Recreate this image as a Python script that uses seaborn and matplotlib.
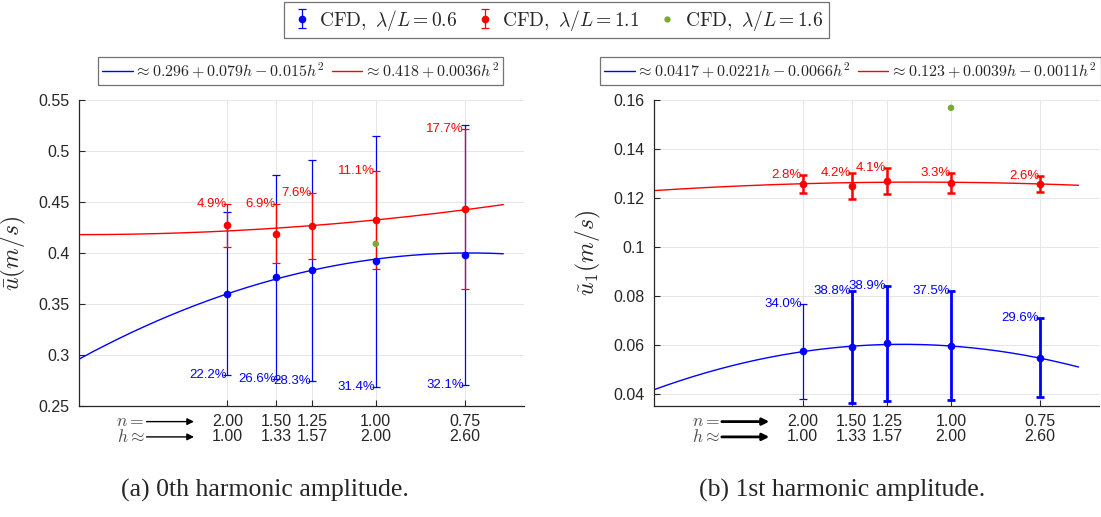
import numpy as np
import pandas as pd
import matplotlib
matplotlib.use("Agg")
import matplotlib.pyplot as plt
from matplotlib.lines import Line2D
import seaborn as sns

# Resolution levels: refinement index n and cell ratio h
n_labels = ["2.00", "1.50", "1.25", "1.00", "0.75"]
h_labels = ["1.00", "1.33", "1.57", "2.00", "2.60"]
h_vals = [1.00, 1.33, 1.57, 2.00, 2.60]

# 0th harmonic amplitude (mean velocity)
u0_short = [0.360, 0.376, 0.383, 0.392, 0.398]        # lambda/L = 0.6
u0_short_pct = [22.2, 26.6, 28.3, 31.4, 32.1]
u0_mid = [0.427, 0.419, 0.426, 0.432, 0.443]          # lambda/L = 1.1
u0_mid_pct = [4.9, 6.9, 7.6, 11.1, 17.7]
u0_long = 0.409                                       # lambda/L = 1.6 (h = 2)
fit0_short = [-0.015, 0.079, 0.296]                   # quadratic fit coeffs (h^2, h, 1)
fit0_mid = [0.0036, 0.0, 0.418]

# 1st harmonic amplitude
u1_short = [0.0573, 0.0592, 0.0606, 0.0597, 0.0548]
u1_short_pct = [34.0, 38.8, 38.9, 37.5, 29.6]
u1_mid = [0.1257, 0.1250, 0.1270, 0.1262, 0.1255]
u1_mid_pct = [2.8, 4.2, 4.1, 3.3, 2.6]
u1_long = 0.1568
fit1_short = [-0.0066, 0.0221, 0.0417]
fit1_mid = [-0.0011, 0.0039, 0.123]

long_h = 2.00

BLUE = (0.0, 0.0, 1.0)
RED = (1.0, 0.0, 0.0)
GREEN = (0.466, 0.674, 0.188)
DARK = (0.15, 0.15, 0.15)

sns.set_theme(style="whitegrid")
plt.rcParams["font.family"] = ["Liberation Sans", "DejaVu Sans"]
plt.rcParams["mathtext.fontset"] = "cm"

fig = plt.figure(figsize=(11.01, 5.17), dpi=100)
fig.patch.set_facecolor("white")
ax0 = fig.add_axes([0.0718, 0.2147, 0.4042, 0.5919])
ax1 = fig.add_axes([0.5943, 0.2147, 0.4042, 0.5919])

h_fit = np.linspace(0.0, 2.86, 300)


def draw_panel(ax, short, short_pct, mid, mid_pct, long_val, fit_s, fit_m,
               ylim, yticks, yticklabels, ylabel, short_lab_top,
               short_w, mid_w, arrow_lw):
    ax.set_facecolor("white")
    fit_df = pd.DataFrame({
        "h": np.concatenate([h_fit, h_fit]),
        "u": np.concatenate([np.polyval(fit_s, h_fit), np.polyval(fit_m, h_fit)]),
        "series": ["short"] * len(h_fit) + ["mid"] * len(h_fit),
    })
    sns.lineplot(data=fit_df, x="h", y="u", hue="series",
                 palette={"short": BLUE, "mid": RED}, linewidth=1.0,
                 legend=False, ax=ax, zorder=2)

    handles = []
    for vals, pcts, col, widths, top in ((short, short_pct, BLUE, short_w, short_lab_top),
                                         (mid, mid_pct, RED, mid_w, True)):
        first = None
        for h, v, p, w in zip(h_vals, vals, pcts, widths):
            err = v * p / 100.0
            c = ax.errorbar(h, v, yerr=err, fmt="o", color=col, ms=4.5,
                            capsize=3.2, elinewidth=w, capthick=w, zorder=3)
            if first is None:
                first = c
            end = v + err if top else v - err
            ax.annotate(f"{p:.1f}%", xy=(h, end), xytext=(-0.5, 0),
                        textcoords="offset points", ha="right", va="center",
                        fontsize=9.5, color=col, zorder=5)
        handles.append(first)

    sns.scatterplot(x=[long_h], y=[long_val], color=GREEN, s=22,
                    edgecolor="none", ax=ax, zorder=4)
    green_handle = Line2D([], [], ls="none", marker="o", ms=4.5,
                          color=GREEN, markeredgecolor="none")
    handles.append(green_handle)

    ax.set_xlim(0, 3)
    ax.set_ylim(*ylim)
    ax.set_yticks(yticks)
    ax.set_yticklabels(yticklabels)
    ax.set_xticks(h_vals)
    ax.set_xticklabels([f"{n}\n{hl}" for n, hl in zip(n_labels, h_labels)],
                       linespacing=1.0)
    ax.set_xlabel("")
    ax.set_ylabel(ylabel, fontsize=17, color=DARK)
    ax.yaxis.set_label_coords(-0.115, 0.5)

    ax.grid(True, color="0.9", linewidth=0.7)
    for side in ("top", "right"):
        ax.spines[side].set_visible(False)
    for side in ("left", "bottom"):
        ax.spines[side].set_color(DARK)
        ax.spines[side].set_linewidth(0.9)
    ax.tick_params(axis="both", direction="in", length=4, width=0.8,
                   colors=DARK, labelsize=11.5, left=True, bottom=True)
    ax.tick_params(axis="y", pad=7)
    ax.tick_params(axis="x", pad=6)

    tr = ax.get_xaxis_transform()
    for y, lab in ((-0.051, r"$n =$"), (-0.101, r"$h \approx$")):
        ax.text(0.44, y, lab, transform=tr, ha="right", va="center",
                fontsize=12.5, color="0.3")
        ax.annotate("", xy=(0.775, y), xytext=(0.455, y), xycoords=tr,
                    textcoords=tr, annotation_clip=False,
                    arrowprops=dict(arrowstyle="-|>", color="black",
                                    lw=arrow_lw, mutation_scale=10,
                                    shrinkA=0, shrinkB=0))
    return handles


h0 = draw_panel(ax0, u0_short, u0_short_pct, u0_mid, u0_mid_pct, u0_long,
                fit0_short, fit0_mid, (0.25, 0.55),
                [0.25, 0.30, 0.35, 0.40, 0.45, 0.50, 0.55],
                ["0.25", "0.3", "0.35", "0.4", "0.45", "0.5", "0.55"],
                r"$\tilde{\bar{u}}(m/s)$", False,
                [0.9] * 5, [0.9] * 5, 1.0)

h1 = draw_panel(ax1, u1_short, u1_short_pct, u1_mid, u1_mid_pct, u1_long,
                fit1_short, fit1_mid, (0.035, 0.16),
                [0.04, 0.06, 0.08, 0.10, 0.12, 0.14, 0.16],
                ["0.04", "0.06", "0.08", "0.1", "0.12", "0.14", "0.16"],
                r"$\tilde{u}_1(m/s)$", True,
                [0.9, 2.0, 2.0, 2.0, 2.0], [1.8] * 5, 2.0)

frame_kw = dict(loc="center", frameon=True, fancybox=False, framealpha=1,
                edgecolor="0.45")

# Shared dataset legend
top = fig.legend(h0, [r"$\mathrm{CFD,}\ \lambda/L = 0.6$",
                      r"$\mathrm{CFD,}\ \lambda/L = 1.1$",
                      r"$\mathrm{CFD,}\ \lambda/L = 1.6$"],
                 bbox_to_anchor=(0.5054, 0.9613), ncol=3, fontsize=14,
                 handlelength=1.2, borderpad=0.3, handletextpad=0.3,
                 columnspacing=0.8, **frame_kw)
top.get_frame().set_linewidth(0.9)

# Fit legends for each panel
fit_h = [Line2D([], [], color=BLUE, lw=1.0), Line2D([], [], color=RED, lw=1.0)]
fit_kw = dict(ncol=2, fontsize=11.5, handlelength=1.9, borderpad=0.25,
              handletextpad=0.1, columnspacing=0.45, **frame_kw)
l0 = fig.legend(fit_h, [r"$\approx 0.296 + 0.079h - 0.015h^2$",
                        r"$\approx 0.418 + 0.0036h^2$"],
                bbox_to_anchor=(0.273, 0.8627), **fit_kw)
l1 = fig.legend(fit_h, [r"$\approx 0.0417 + 0.0221h - 0.0066h^2$",
                        r"$\approx 0.123 + 0.0039h - 0.0011h^2$"],
                bbox_to_anchor=(0.7725, 0.8627), **fit_kw)
for lg in (l0, l1):
    lg.get_frame().set_linewidth(0.9)

fig.text(0.2407, 0.052, "(a) 0th harmonic amplitude.", ha="center",
         va="center", fontsize=18.5, family=["Liberation Serif", "DejaVu Serif"])
fig.text(0.765, 0.052, "(b) 1st harmonic amplitude.", ha="center",
         va="center", fontsize=18.5, family=["Liberation Serif", "DejaVu Serif"])

fig.savefig("out.png", dpi=100, facecolor="white")
